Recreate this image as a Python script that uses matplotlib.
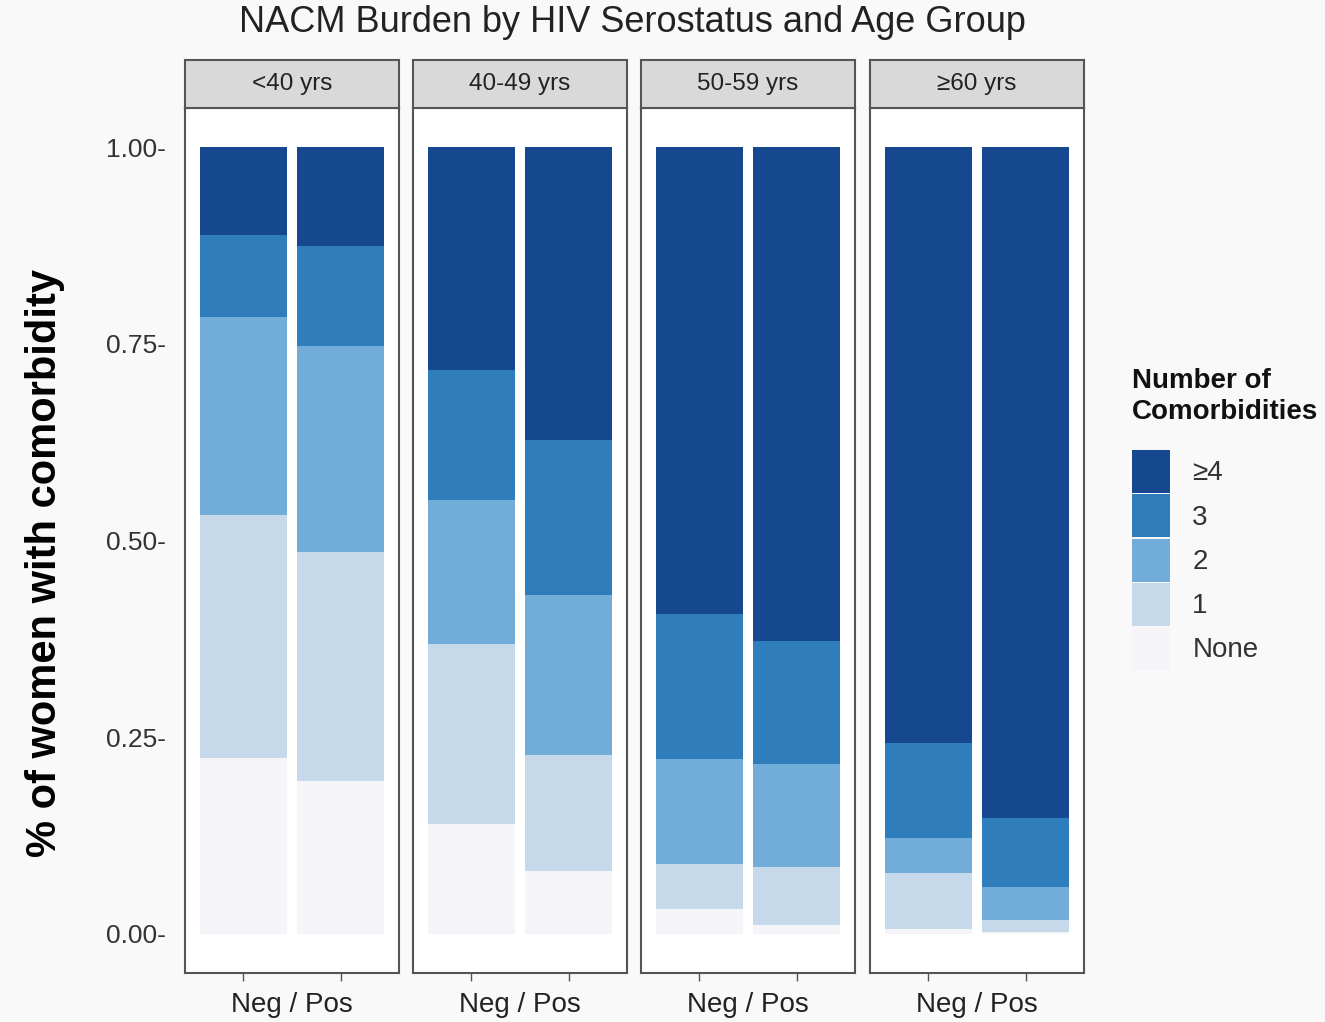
import numpy as np
import matplotlib
matplotlib.use('Agg')
import matplotlib.pyplot as plt
from matplotlib.patches import Patch

# Datos (proporciones por grupo de edad, Neg / Pos)
grupos = ['<40 yrs', '40-49 yrs', '50-59 yrs', '≥60 yrs']
serostatus = ['Neg', 'Pos']
categorias = ['None', '1', '2', '3', '≥4']

p_none = [[0.223, 0.194], [0.140, 0.080], [0.032, 0.011], [0.006, 0.002]]
p_uno = [[0.309, 0.291], [0.229, 0.147], [0.057, 0.074], [0.071, 0.016]]
p_dos = [[0.252, 0.262], [0.182, 0.204], [0.133, 0.131], [0.045, 0.042]]
p_tres = [[0.105, 0.127], [0.166, 0.197], [0.185, 0.156], [0.120, 0.087]]
p_cuatro = [[0.111, 0.126], [0.283, 0.372], [0.593, 0.628], [0.758, 0.853]]

colores = ['#f4f4f9', '#c5d9eb', '#72acd8', '#2f7dba', '#16488f']

plt.rcParams['font.family'] = ['Liberation Sans', 'DejaVu Sans']

W, H = 1325, 1022
fig = plt.figure(figsize=(W / 100, H / 100), dpi=100)
fig.patch.set_facecolor('#f9f9f9')

paneles_x = [185, 413, 641, 870]
ancho = 214
abajo, arriba = 973, 108
alto_strip = 48

datos = [p_none, p_uno, p_dos, p_tres, p_cuatro]

for i, g in enumerate(grupos):
    ax = fig.add_axes([paneles_x[i] / W, (H - abajo) / H, ancho / W, (abajo - arriba) / H])
    ax.set_facecolor('white')
    x = np.arange(1, 3)
    base = np.zeros(2)
    for k, cat in enumerate(categorias):
        vals = np.array(datos[k][i])
        ax.bar(x, vals, bottom=base, width=0.9, color=colores[k], edgecolor='none')
        base += vals
    ax.set_xlim(0.4, 2.6)
    ax.set_ylim(-0.05, 1.05)
    ax.set_xticks(x)
    ax.set_xticklabels([])
    ax.tick_params(axis='x', length=6, width=1, color='#555555')
    ax.set_yticks([0, 0.25, 0.5, 0.75, 1.0])
    if i == 0:
        ax.set_yticklabels(['0.00-', '0.25-', '0.50-', '0.75-', '1.00-'], fontsize=19, color='#333333')
        ax.tick_params(axis='y', length=0, pad=14)
    else:
        ax.set_yticklabels([])
        ax.tick_params(axis='y', length=0)
    for s in ax.spines.values():
        s.set_color('#555555')
        s.set_linewidth(1.5)
    ax.set_xlabel('Neg / Pos', fontsize=20, color='#222222', labelpad=4)

    # etiqueta del panel
    st = fig.add_axes([paneles_x[i] / W, (H - arriba) / H, ancho / W, alto_strip / H])
    st.set_facecolor('#d9d9d9')
    st.set_xticks([])
    st.set_yticks([])
    for s in st.spines.values():
        s.set_color('#555555')
        s.set_linewidth(1.5)
    st.text(0.5, 0.5, g, ha='center', va='center', fontsize=17.5, color='#222222',
            family=['Liberation Sans', 'DejaVu Sans'])

fig.text(632 / W, 1 - 23 / H, 'NACM Burden by HIV Serostatus and Age Group',
         ha='center', va='center', fontsize=26, color='#222222')
fig.text(45 / W, 1 - 563 / H, '% of women with comorbidity', rotation=90,
         ha='center', va='center', fontsize=30, fontweight='bold', color='black')

# titulo de la leyenda aparte para controlar la separacion
fig.text(1132 / W, 1 - 368 / H, 'Number of\nComorbidities', ha='left', va='top',
         fontsize=20, fontweight='bold', color='#111111', linespacing=1.25)

manejadores = [Patch(facecolor=colores[k], edgecolor='none') for k in range(4, -1, -1)]
etiquetas = categorias[::-1]
leg = fig.legend(manejadores, etiquetas, loc='upper left',
                 bbox_to_anchor=(1132 / W, 1 - 450 / H), frameon=False,
                 borderaxespad=0, borderpad=0,
                 fontsize=20, handlelength=1.37, handleheight=2.0,
                 labelspacing=0.05, handletextpad=0.8)
for t in leg.get_texts():
    t.set_color('#333333')

plt.savefig('out.png', dpi=100, facecolor=fig.get_facecolor())
